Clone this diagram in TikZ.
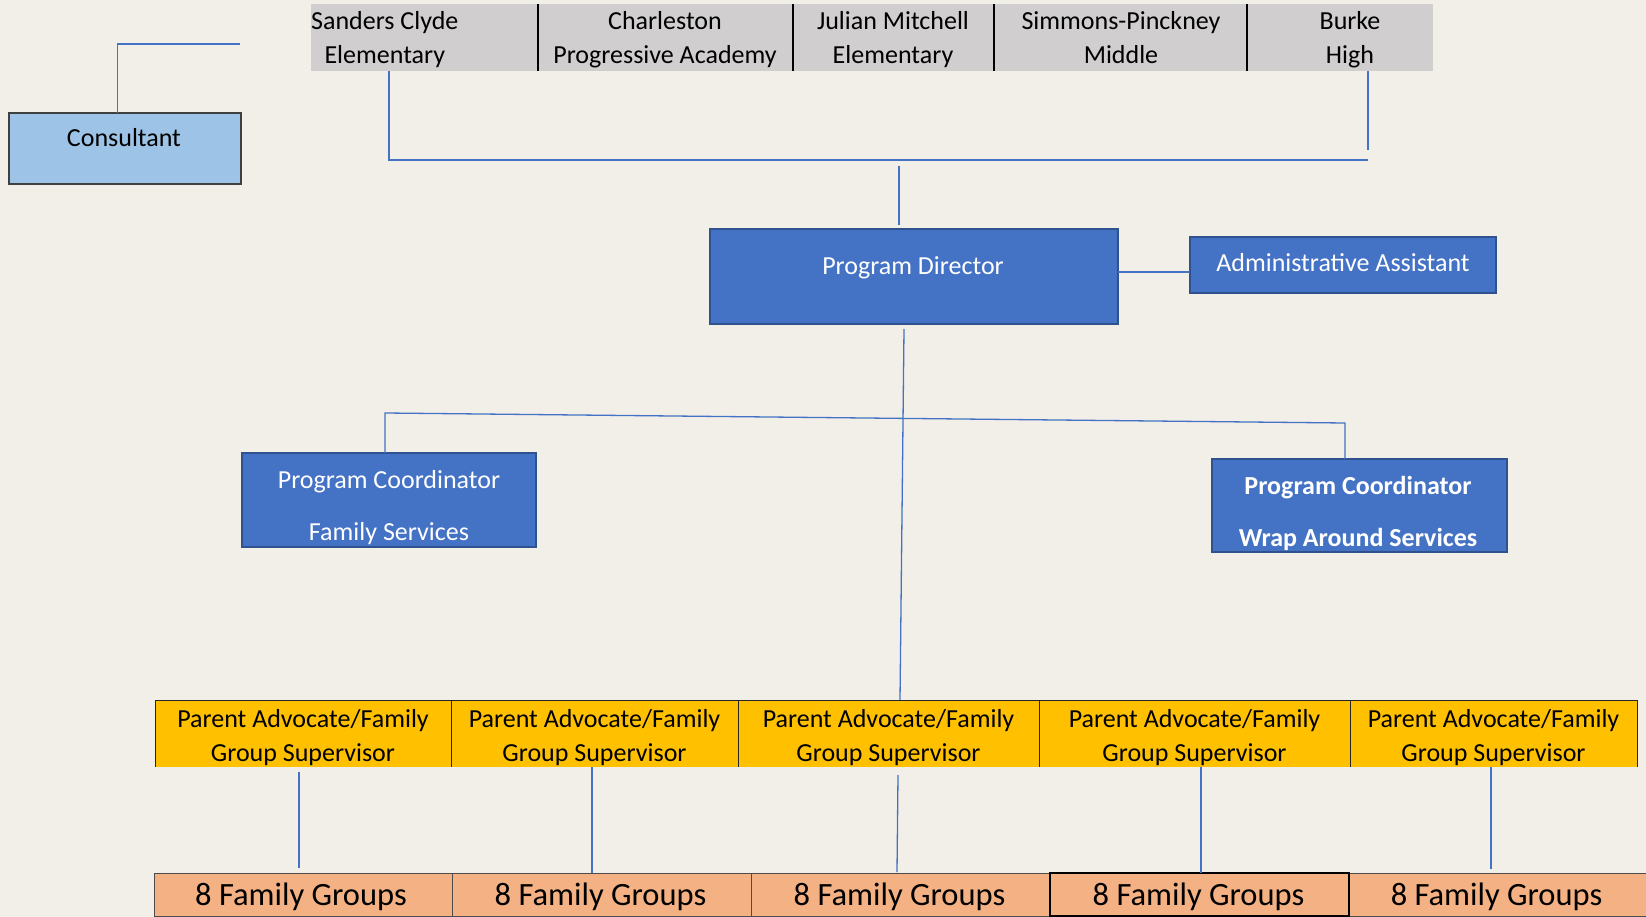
\documentclass[tikz,border=0pt]{standalone}
\usepackage{fontspec}
\setmainfont{Carlito}
\definecolor{bg}{HTML}{F2EFE9}
\definecolor{hdrgray}{HTML}{D0CECE}
\definecolor{blueA}{HTML}{4472C4}
\definecolor{blueB}{HTML}{2F528F}
\definecolor{lightblue}{HTML}{9DC3E6}
\definecolor{gold}{HTML}{FFC000}
\definecolor{peach}{HTML}{F4B183}
\begin{document}
\begin{tikzpicture}[x=1pt,y=-1pt,
  base/.style={rectangle, inner sep=0pt, outer sep=0pt},
  hdrcell/.style={base, fill=hdrgray, minimum height=67pt},
  bluebox/.style={base, fill=blueA, draw=blueB, line width=2pt},
  consbox/.style={base, fill=lightblue, draw=black!75, line width=1.5pt},
  supcell/.style={base, fill=gold, minimum height=67pt},
  fgcell/.style={base, fill=peach, draw=black!70, line width=1pt, minimum height=43pt},
  txt/.style={inner sep=0pt, align=center, font=\fontsize{26}{34}\selectfont},
  fgtxt/.style={inner sep=0pt, font=\fontsize{32.5}{38}\selectfont},
  wtxt/.style={txt, text=white},
  conn/.style={draw=blueA, line width=1.3pt},
  divider/.style={draw=black, line width=1.5pt},
  supline/.style={draw=black!85, line width=1pt}
]
\useasboundingbox (0,0) rectangle (1646,917);
\fill[bg] (0,0) rectangle (1646,917);

% header band of schools
\node[hdrcell, minimum width=227pt] (s1) at (424.5,37.5) {};
\node[hdrcell, minimum width=255pt] (s2) at (665.5,37.5) {};
\node[hdrcell, minimum width=201pt] (s3) at (893.5,37.5) {};
\node[hdrcell, minimum width=253pt] (s4) at (1120.5,37.5) {};
\node[hdrcell, minimum width=186pt] (s5) at (1340,37.5) {};
\draw[divider] (s1.north east) -- (s1.south east);
\draw[divider] (s2.north east) -- (s2.south east);
\draw[divider] (s3.north east) -- (s3.south east);
\draw[divider] (s4.north east) -- (s4.south east);
\node[txt, anchor=west] (s1t) at (311,40) {Sanders Clyde\\Elementary};
\node[txt] (s2t) at (665,40) {Charleston\\Progressive Academy};
\node[txt] (s3t) at (893,40) {Julian Mitchell\\Elementary};
\node[txt] (s4t) at (1121,38) {Simmons-Pinckney\\Middle};
\node[txt] (s5t) at (1350,40) {Burke\\High};

% consultant
\node[consbox, minimum width=232pt, minimum height=71pt] (cons) at (125,148.5) {};
\node[txt] (const) at (124,138) {Consultant};
\coordinate (consfree) at (240,44);

% program director and assistant
\node[bluebox, minimum width=408pt, minimum height=95pt] (pd) at (914,276.5) {};
\node[wtxt] (pdt) at (913,268) {Program Director};
\node[bluebox, minimum width=306pt, minimum height=56pt] (admin) at (1343,265) {};
\node[wtxt] (admint) at (1343,263) {Administrative Assistant};

% coordinators
\node[bluebox, minimum width=294pt, minimum height=94pt] (cfs) at (389,500) {};
\node[wtxt] (cfst) at (389,507.5) {Program Coordinator\\[18pt]Family Services};
\node[bluebox, minimum width=295pt, minimum height=93pt] (cwr) at (1359.5,505.5) {};
\node[wtxt, font=\fontsize{26}{34}\selectfont\bfseries] (cwrt) at (1358,513) {Program Coordinator\\[18pt]Wrap Around Services};

% supervisors
\node[supcell, minimum width=296pt] (sup1) at (303,733.5) {};
\node[supcell, minimum width=287pt] (sup2) at (594.5,733.5) {};
\node[supcell, minimum width=301pt] (sup3) at (888.5,733.5) {};
\node[supcell, minimum width=311pt] (sup4) at (1194.5,733.5) {};
\node[supcell, minimum width=287pt] (sup5) at (1493.5,733.5) {};
\draw[supline] (sup1.north west) -- (sup5.north east);
\draw[supline] (sup1.north west) -- (sup1.south west);
\draw[supline] (sup1.north east) -- (sup1.south east);
\draw[supline] (sup2.north east) -- (sup2.south east);
\draw[supline] (sup3.north east) -- (sup3.south east);
\draw[supline] (sup4.north east) -- (sup4.south east);
\draw[supline] (sup5.north east) -- (sup5.south east);
\node[txt] (sup1t) at ([yshift=-4pt]sup1.center) {Parent Advocate/Family\\Group Supervisor};
\node[txt] (sup2t) at ([yshift=-4pt]sup2.center) {Parent Advocate/Family\\Group Supervisor};
\node[txt] (sup3t) at ([yshift=-4pt]sup3.center) {Parent Advocate/Family\\Group Supervisor};
\node[txt] (sup4t) at ([yshift=-4pt]sup4.center) {Parent Advocate/Family\\Group Supervisor};
\node[txt] (sup5t) at ([yshift=-4pt]sup5.center) {Parent Advocate/Family\\Group Supervisor};

% family groups
\node[fgcell, minimum width=298pt] (fg1) at (303,894.5) {};
\node[fgcell, minimum width=299pt] (fg2) at (601.5,894.5) {};
\node[fgcell, minimum width=299pt] (fg3) at (900.5,894.5) {};
\node[fgcell, minimum width=297pt] (fg5) at (1497.5,894.5) {};
\node[fgcell, minimum width=299pt, draw=black, line width=2pt] (fg4) at (1199.5,894.5) {};
\node[fgtxt] (fg1t) at ([xshift=-2pt,yshift=-2pt]fg1.center) {8 Family Groups};
\node[fgtxt] (fg2t) at ([xshift=-1pt,yshift=-2pt]fg2.center) {8 Family Groups};
\node[fgtxt] (fg3t) at ([xshift=-1pt,yshift=-2pt]fg3.center) {8 Family Groups};
\node[fgtxt] (fg4t) at ([xshift=-1pt,yshift=-2pt]fg4.center) {8 Family Groups};
\node[fgtxt] (fg5t) at ([xshift=-1pt,yshift=-2pt]fg5.center) {8 Family Groups};

% connectors
\draw[conn] ([xshift=-7.5pt]cons.north) |- (consfree);
\coordinate (busR) at (1368,160);
\coordinate (burkeEnd) at (1368,150);
\coordinate (busTop) at (899,166);
\draw[conn] ([xshift=-35.5pt]s1.south) |- (busR);
\draw[conn] ([xshift=28pt]s5.south) -- (burkeEnd);
\draw[conn] (busTop) -- ([xshift=-15pt,yshift=4pt]pd.north);
\draw[conn] ([yshift=4.5pt]pd.east) -- ([yshift=4.5pt]pd.east -| admin.west);
\draw[conn] ([xshift=-10pt,yshift=-5pt]pd.south) -- ([xshift=11.5pt]sup3.north);
\coordinate (cbL) at (385,413);
\coordinate (cbR) at (1345,423);
\draw[conn] ([xshift=-4pt]cfs.north) -- (cbL) -- (cbR) -- ([xshift=-14.5pt]cwr.north);
\draw[conn] ([xshift=-4pt,yshift=-5pt]sup1.south) -- ([xshift=-4pt,yshift=5pt]fg1.north);
\draw[conn] ([xshift=-2.5pt]sup2.south) -- ([xshift=-9.5pt]fg2.north);
\draw[conn] ([xshift=9.5pt,yshift=-8pt]sup3.south) -- ([xshift=-3.5pt,yshift=1pt]fg3.north);
\draw[conn] ([xshift=6.5pt]sup4.south) -- ([xshift=1.5pt]fg4.north);
\draw[conn] ([xshift=-2.5pt]sup5.south) -- ([xshift=-6.5pt,yshift=4pt]fg5.north);
\end{tikzpicture}
\end{document}
